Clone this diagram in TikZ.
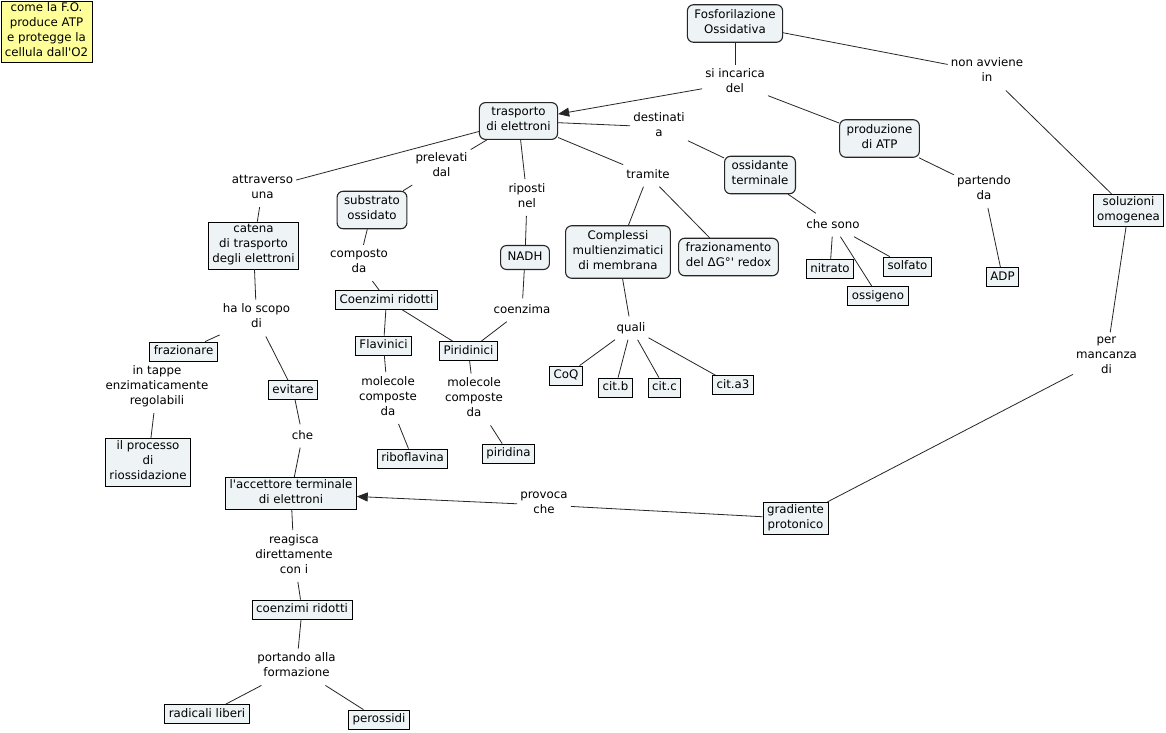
\documentclass[tikz,border=0pt]{standalone}
\usepackage{fontspec}
\setmainfont{DejaVu Sans}
\usetikzlibrary{arrows.meta}
\definecolor{boxfill}{RGB}{238,244,246}
\definecolor{titlefill}{RGB}{255,255,153}
\begin{document}
\begin{tikzpicture}[x=1pt,y=-1pt,
 every node/.style={font=\fontsize{11.8}{15}\selectfont, align=center,
   execute at begin node=\strut, execute at end node=\strut},
 rbox/.style={draw=black!85, line width=1.1pt, rounded corners=6pt, fill=boxfill, inner xsep=7pt, inner ysep=4.5pt},
 sbox/.style={draw=black, line width=0.8pt, fill=boxfill, inner xsep=4pt, inner ysep=2pt},
 lbl/.style={inner xsep=3pt, inner ysep=4pt},
 conn/.style={draw=black!85, line width=0.8pt},
 arr/.style={conn, -{Triangle[length=11pt,width=9pt]}}]
\fill[white] (0,0) rectangle (1166,732);
\useasboundingbox (0,0) rectangle (1166,732);

% title
\node[draw, line width=0.8pt, fill=titlefill, inner sep=1pt, minimum width=91pt, minimum height=61pt] (title) at (46.5,31.5)
  {come la F.O.\\produce ATP\\e protegge la\\cellula dall\textquotesingle O2};

% concepts
\node[rbox] (fosfo) at (735,23.5) {Fosforilazione\\Ossidativa};
\node[rbox] (trasp) at (518.5,121) {trasporto\\di elettroni};
\node[rbox] (ossid) at (760,175) {ossidante\\terminale};
\node[rbox] (prod) at (879.5,138.5) {produzione\\di ATP};
\node[sbox] (soluz) at (1128.5,210.5) {soluzioni\\omogenea};
\node[sbox] (adp) at (1002.5,277) {ADP};
\node[sbox] (nitrato) at (830,269) {nitrato};
\node[sbox] (solfato) at (907.5,266.5) {solfato};
\node[sbox] (ossigeno) at (878,296) {ossigeno};
\node[sbox] (catena) at (253.5,245.5) {catena\\di trasporto\\degli elettroni};
\node[rbox] (substr) at (372,210) {substrato\\ossidato};
\node[sbox] (coenz) at (386.5,300) {Coenzimi ridotti};
\node[rbox] (nadh) at (525,257.5) {NADH};
\node[sbox] (piri) at (468.5,351) {Piridinici};
\node[sbox] (flav) at (383.5,345.5) {Flavinici};
\node[sbox] (ribo) at (412.5,458.5) {riboflavina};
\node[sbox] (piridina) at (508.5,453.5) {piridina};
\node[rbox] (compl) at (618,252) {Complessi\\multienzimatici\\di membrana};
\node[rbox] (frazio) at (728.5,257) {frazionamento\\del ΔG°\textquotesingle{} redox};
\node[sbox] (coq) at (566,375.5) {CoQ};
\node[sbox] (citb) at (615.5,387.5) {cit.b};
\node[sbox] (citc) at (664.5,387.5) {cit.c};
\node[sbox] (cita) at (733,385) {cit.a3};
\node[sbox] (frazionare) at (183.5,351.5) {frazionare};
\node[sbox] (processo) at (148,462.5) {il processo\\di\\riossidazione};
\node[sbox] (evitare) at (293,390) {evitare};
\node[sbox] (accett) at (291,493.5) {l\textquotesingle accettore terminale\\di elettroni};
\node[sbox] (coenz2) at (302,609.5) {coenzimi ridotti};
\node[sbox] (radic) at (207,714) {radicali liberi};
\node[sbox] (perox) at (379,719.5) {perossidi};
\node[sbox] (gradiente) at (795.5,518.5) {gradiente\\protonico};

% linking phrases
\node[lbl] (siinc) at (735,83) {si incarica\\del};
\node[lbl] (destin) at (659,127) {destinati\\a};
\node[lbl] (nonavv) at (987,72) {non avviene\\in};
\node[lbl] (partendo) at (984,189.5) {partendo\\da};
\node[lbl] (chesono) at (833,225) {che sono};
\node[lbl] (attrav) at (262.5,189) {attraverso\\una};
\node[lbl] (prelev) at (441.5,167) {prelevati\\dal};
\node[lbl] (compos) at (359,263) {composto\\da};
\node[lbl] (riposti) at (527,197.5) {riposti\\nel};
\node[lbl] (coenzima) at (522,310) {coenzima};
\node[lbl] (molf) at (388,398) {molecole\\composte\\da};
\node[lbl] (molp) at (474,399.5) {molecole\\composte\\da};
\node[lbl] (tramite) at (648,175) {tramite};
\node[lbl] (quali) at (631,328) {quali};
\node[lbl] (scopo) at (256.5,318) {ha lo scopo\\di};
\node[lbl] (tappe) at (157,387) {in tappe\\enzimaticamente\\regolabili};
\node[lbl] (che) at (302.5,436) {che};
\node[lbl] (reag) at (294,556) {reagisca\\direttamente\\con i};
\node[lbl] (portando) at (296.5,667) {portando alla\\formazione};
\node[lbl] (provoca) at (544,505) {provoca\\che};
\node[lbl] (mancanza) at (1106.5,357) {per\\mancanza\\di};

% connectors
\draw[conn] (fosfo) -- (siinc);
\draw[arr] (siinc) -- (trasp);
\draw[conn] (siinc) -- (prod);
\draw[conn] (fosfo) -- (nonavv);
\draw[conn] (nonavv) -- (soluz);
\draw[conn] (prod) -- (partendo);
\draw[conn] (partendo) -- (adp);
\draw[conn] (trasp) -- (destin);
\draw[conn] (destin) -- (ossid);
\draw[conn] (ossid) -- (chesono);
\draw[conn] (chesono) -- (nitrato);
\draw[conn] (chesono) -- (ossigeno);
\draw[conn] (chesono) -- (solfato);
\draw[conn] (trasp) -- (attrav);
\draw[conn] (attrav) -- (catena);
\draw[conn] (trasp) -- (prelev);
\draw[conn] (prelev) -- (substr);
\draw[conn] (substr) -- (compos);
\draw[conn] (compos) -- (coenz);
\draw[conn] (trasp) -- (riposti);
\draw[conn] (riposti) -- (nadh);
\draw[conn] (nadh) -- (coenzima);
\draw[conn] (coenzima) -- (piri);
\draw[conn] (coenz) -- (flav);
\draw[conn] (coenz) -- (piri);
\draw[conn] (flav) -- (molf);
\draw[conn] (molf) -- (ribo);
\draw[conn] (piri) -- (molp);
\draw[conn] (molp) -- (piridina);
\draw[conn] (trasp) -- (tramite);
\draw[conn] (tramite) -- (compl);
\draw[conn] (tramite) -- (frazio);
\draw[conn] (compl) -- (quali);
\draw[conn] (quali) -- (coq);
\draw[conn] (quali) -- (citb);
\draw[conn] (quali) -- (citc);
\draw[conn] (quali) -- (cita);
\draw[conn] (catena) -- (scopo);
\draw[conn] (scopo) -- (frazionare);
\draw[conn] (scopo) -- (evitare);
\draw[conn] (frazionare) -- (tappe);
\draw[conn] (tappe) -- (processo);
\draw[conn] (evitare) -- (che);
\draw[conn] (che) -- (accett);
\draw[conn] (accett) -- (reag);
\draw[conn] (reag) -- (coenz2);
\draw[conn] (coenz2) -- (portando);
\draw[conn] (portando) -- (radic);
\draw[conn] (portando) -- (perox);
\draw[conn] (soluz) -- (mancanza);
\draw[conn] (mancanza) -- (gradiente);
\draw[conn] (gradiente) -- (provoca);
\draw[arr] (provoca) -- (accett);
\end{tikzpicture}
\end{document}
